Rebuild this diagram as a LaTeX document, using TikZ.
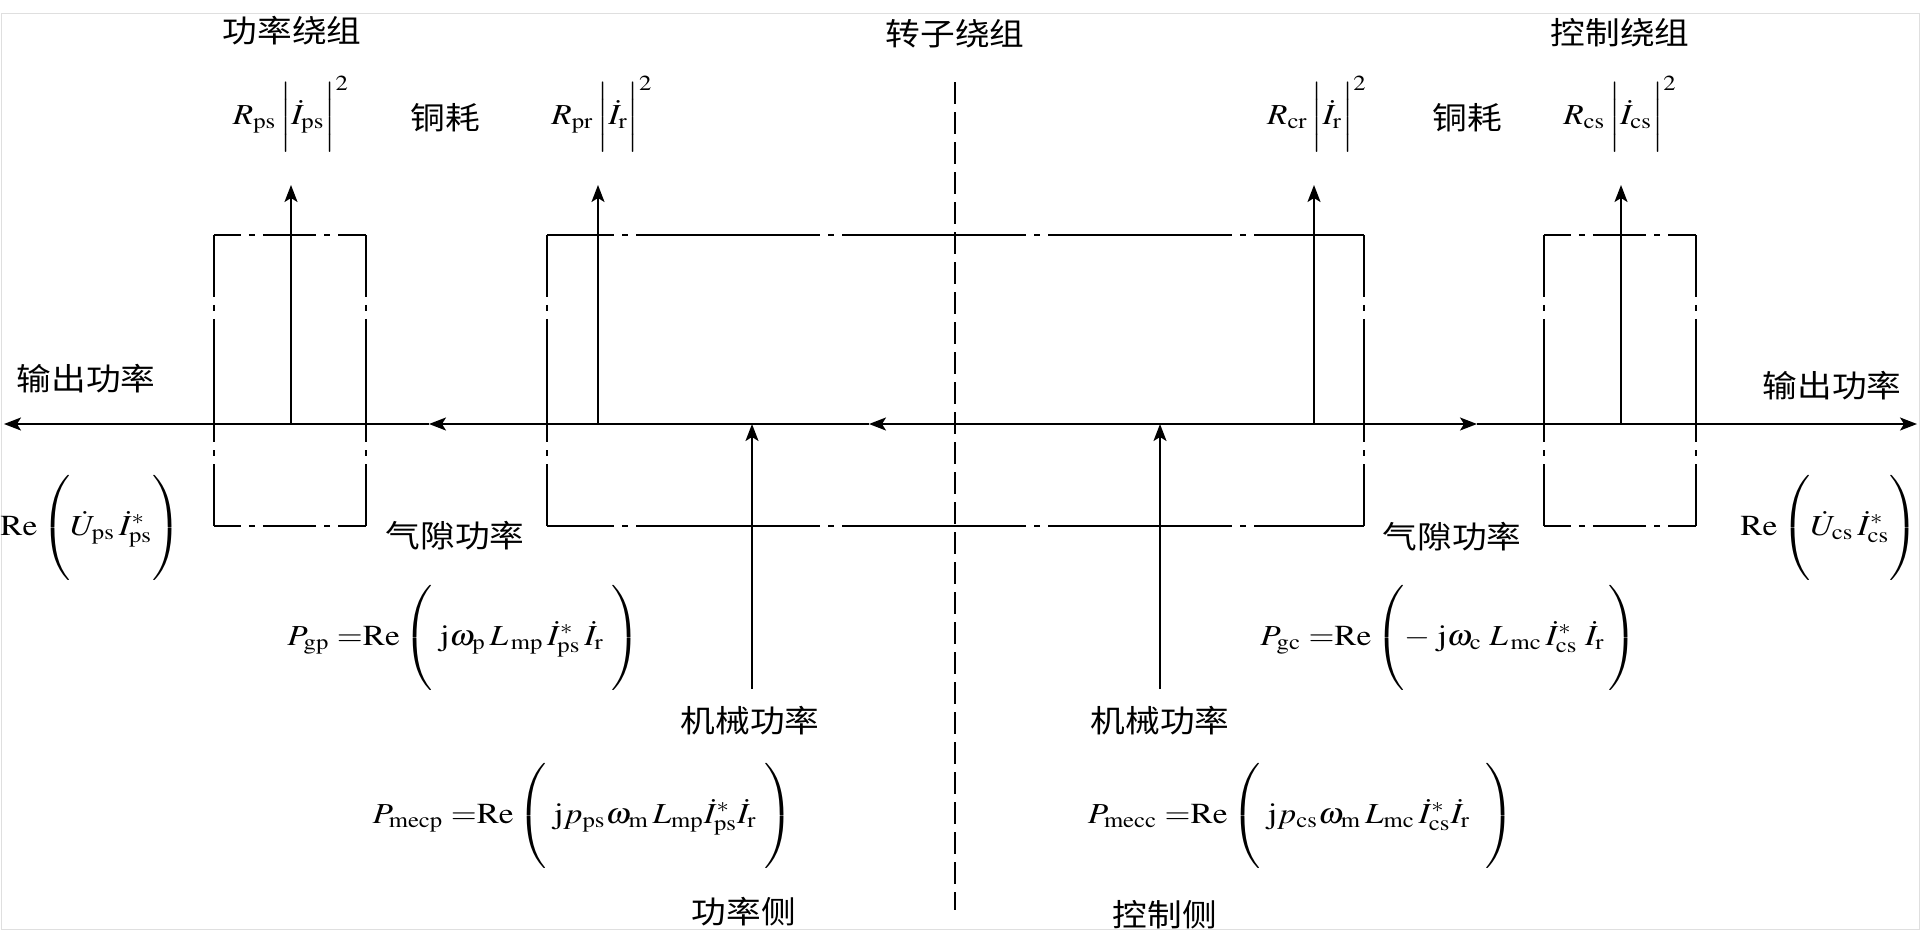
\documentclass[tikz,border=0pt]{standalone}
\usepackage{mathptmx}
\usepackage{fontspec}
\setmainfont{Liberation Serif}
\newfontfamily\cjk{Noto Sans CJK SC}
\usetikzlibrary{arrows.meta}

% strut that sets the size of the big delimiters
\newcommand{\tallstrut}[2]{\vrule height #1 depth #2 width 0pt}

\tikzset{
    flow/.style={line width=0.9pt, -{Stealth[length=8.5pt, width=6.5pt, inset=2pt]}},
    wall/.style={line width=0.9pt},
    divide/.style={line width=0.9pt, dash pattern=on 11pt off 4pt},
    chainh/.style={wall, dash pattern=on 26.75pt off 4pt on 3pt off 4pt, dash phase=13.375pt},
    chainv/.style={wall, dash pattern=on 61.75pt off 4pt on 3pt off 4pt, dash phase=30.875pt},
    chainw/.style={wall, dash pattern=on 92pt off 4pt on 3pt off 4pt, dash phase=58.5pt},
    zh/.style={font=\cjk\fontsize{15.5}{18}\selectfont, xscale=1.12, inner sep=0pt},
    eq/.style={font=\fontsize{14.5}{17}\selectfont, xscale=1.15, inner sep=0pt},
}

\begin{document}
\begin{tikzpicture}[x=0.5pt, y=-0.5pt]
    \useasboundingbox (0,0) rectangle (1920,932);
    % Frame
    \draw[gray!25, line width=0.5pt] (1,13) rectangle (1919,929);

    % Boundary between power side and control side
    \coordinate (divTop) at (955,82);
    \coordinate (divBot) at (955,910);
    \draw[divide] (divTop) -- (divBot);

    % Winding boxes
    \draw[chainh] (214,235) -- (366,235) (214,526) -- (366,526)
                  (1544,235) -- (1696,235) (1544,526) -- (1696,526);
    \draw[chainw] (547,235) -- (1364,235) (547,526) -- (1364,526);
    \draw[chainv] (214,235) -- (214,526) (366,235) -- (366,526)
                  (547,235) -- (547,526) (1364,235) -- (1364,526)
                  (1544,235) -- (1544,526) (1696,235) -- (1696,526);

    % Power line
    \coordinate (outL) at (4,424);
    \coordinate (airL) at (429,424);
    \coordinate (midL) at (869,424);
    \coordinate (mecL) at (752,424);
    \coordinate (mecR) at (1160,424);
    \coordinate (airR) at (1477,424);
    \coordinate (outR) at (1917,424);
    \draw[flow] (mecR) -- (midL);
    \draw[flow] (midL) -- (airL);
    \draw[flow] (airL) -- (outL);
    \draw[flow] (mecR) -- (airR);
    \draw[flow] (airR) -- (outR);

    % Copper losses
    \foreach \n/\x in {ps/291, pr/598, cr/1314, cs/1621} {
        \coordinate (base\n) at (\x,424);
        \coordinate (tip\n) at (\x,185);
        \draw[flow] (base\n) -- (tip\n);
    }

    % Mechanical power
    \coordinate (footL) at (752,689);
    \coordinate (footR) at (1160,689);
    \draw[flow] (footL) -- (mecL);
    \draw[flow] (footR) -- (mecR);

    % Labels
    \node[zh] (pwind) at (292,31) {功率绕组};
    \node[zh] (rwind) at (955,34) {转子绕组};
    \node[zh] (cwind) at (1620,33) {控制绕组};
    \node[zh] (cuL) at (445,118) {铜耗};
    \node[zh] (cuR) at (1467,118) {铜耗};
    \node[zh] (outLtxt) at (86,379) {输出功率};
    \node[zh] (outRtxt) at (1832,386) {输出功率};
    \node[zh] (airLtxt) at (455,536) {气隙功率};
    \node[zh] (airRtxt) at (1452,537) {气隙功率};
    \node[zh] (mecLtxt) at (750,721) {机械功率};
    \node[zh] (mecRtxt) at (1160,721) {机械功率};
    \node[zh] (pside) at (744,912) {功率侧};
    \node[zh] (cside) at (1165,915) {控制侧};

    % Formulas
    \node[eq] (lossPS) at (291,114)
        {$R_{\mathrm{ps}}\left|\tallstrut{19pt}{13pt}\dot{I}_{\mathrm{ps}}\right|^{2}$};
    \node[eq] (lossPR) at (602,114)
        {$R_{\mathrm{pr}}\left|\tallstrut{19pt}{13pt}\dot{I}_{\mathrm{r}}\right|^{2}$};
    \node[eq] (lossCR) at (1317,114)
        {$R_{\mathrm{cr}}\left|\tallstrut{19pt}{13pt}\dot{I}_{\mathrm{r}}\right|^{2}$};
    \node[eq] (lossCS) at (1620,114)
        {$R_{\mathrm{cs}}\left|\tallstrut{19pt}{13pt}\dot{I}_{\mathrm{cs}}\right|^{2}$};
    \node[eq, anchor=west] (outPS) at (0,528)
        {$\mathrm{Re}\left(\tallstrut{25pt}{21pt}\dot{U}_{\mathrm{ps}}\,\dot{I}^{*}_{\mathrm{ps}}\right)$};
    \node[eq, anchor=east] (outCS) at (1919,528)
        {$\mathrm{Re}\left(\tallstrut{25pt}{21pt}\dot{U}_{\mathrm{cs}}\,\dot{I}^{*}_{\mathrm{cs}}\right)$};
    \node[eq] (gapP) at (464,638)
        {$P_{\mathrm{gp}}\;{=}\mathrm{Re}\left(\;\tallstrut{25pt}{21pt}\mathrm{j}\omega_{\mathrm{p}}\,L_{\,\mathrm{mp}}\,\dot{I}^{*}_{\mathrm{ps}}\,\dot{I}_{\mathrm{r}}\;\right)$};
    \node[eq] (gapC) at (1449,638)
        {$P_{\mathrm{gc}}\;{=}\mathrm{Re}\left(\tallstrut{25pt}{21pt}{-}\;\mathrm{j}\omega_{\mathrm{c}}\;L_{\,\mathrm{mc}}\,\dot{I}^{*}_{\mathrm{cs}}\;\dot{I}_{\mathrm{r}}\,\right)$};
    \node[eq] (mecP) at (583,816)
        {$P_{\mathrm{mecp}}\;{=}\mathrm{Re}\left(\;\tallstrut{25pt}{21pt}\mathrm{j}p_{\mathrm{ps}}\omega_{\mathrm{m}}\,L_{\mathrm{mp}}\dot{I}^{*}_{\mathrm{ps}}\dot{I}_{\mathrm{r}}\;\right)$};
    \node[eq] (mecC) at (1301,816)
        {$P_{\mathrm{mecc}}\;{=}\mathrm{Re}\left(\;\tallstrut{25pt}{21pt}\mathrm{j}p_{\mathrm{cs}}\omega_{\mathrm{m}}\,L_{\mathrm{mc}}\,\dot{I}^{*}_{\mathrm{cs}}\dot{I}_{\mathrm{r}}\;\;\right)$};
\end{tikzpicture}
\end{document}
